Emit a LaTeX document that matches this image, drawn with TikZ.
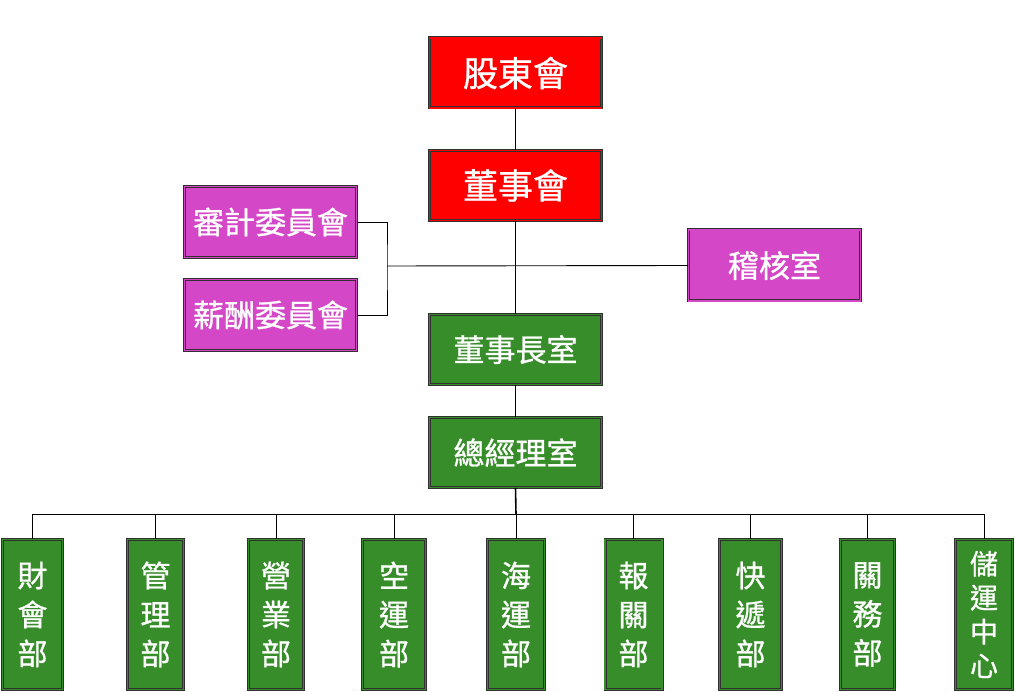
\documentclass[tikz,border=0pt]{standalone}
\usepackage{fontspec}
\newfontfamily\cjk[FakeBold=0.9]{Noto Sans CJK TC}
\definecolor{boxred}{HTML}{FF0000}
\definecolor{boxmag}{HTML}{D447C6}
\definecolor{boxgreen}{HTML}{368D29}
\definecolor{edgedark}{HTML}{303030}
\tikzset{
  box/.style={draw=edgedark, line width=0.8pt, double distance=1.4pt, inner sep=0pt, text=white, font=\cjk, align=center},
  redbox/.style={box, fill=boxred, double=boxred, minimum width=172pt, minimum height=70pt, font=\cjk\fontsize{35}{38}\selectfont},
  magbox/.style={box, fill=boxmag, double=boxmag, minimum width=172pt, minimum height=71pt, font=\cjk\fontsize{31}{34}\selectfont},
  greenbox/.style={box, fill=boxgreen, double=boxgreen, minimum width=172pt, minimum height=70pt, font=\cjk\fontsize{31}{34}\selectfont},
  deptbox/.style={box, fill=boxgreen, double=boxgreen, minimum height=150pt, font=\cjk\fontsize{30}{39}\selectfont},
  conn/.style={draw=black, line width=0.9pt},
  stem/.style={draw=black, line width=1.6pt}
}
\begin{document}
\begin{tikzpicture}[x=1pt,y=-1pt]
\useasboundingbox (0,0) rectangle (1015,692);
\node[redbox] (gd) at (515.5,73) {股東會};
\node[redbox] (dsh) at (515.5,185.5) {董事會};
\node[magbox] (sj) at (270.5,222) {審計委員會};
\node[magbox] (xc) at (270.5,315) {薪酬委員會};
\node[magbox] (jh) at (774.5,265.5) {稽核室};
\node[greenbox] (dsz) at (515.5,349.5) {董事長室};
\node[greenbox] (zjl) at (515.5,452.5) {總經理室};

\node[deptbox, minimum width=60pt] (d1) at (32.5,614.5) {財\\會\\部};
\node[deptbox, minimum width=56pt] (d2) at (155.5,614.5) {管\\理\\部};
\node[deptbox, minimum width=55pt] (d3) at (276,614.5) {營\\業\\部};
\node[deptbox, minimum width=63pt] (d4) at (394,614.5) {空\\運\\部};
\node[deptbox, minimum width=57pt] (d5) at (516,614.5) {海\\運\\部};
\node[deptbox, minimum width=57pt] (d6) at (633.5,614.5) {報\\關\\部};
\node[deptbox, minimum width=62pt] (d7) at (750.5,614.5) {快\\遞\\部};
\node[deptbox, minimum width=54pt] (d8) at (867.5,614.5) {關\\務\\部};
\node[deptbox, minimum width=57pt, font=\cjk\fontsize{28}{34}\selectfont] (d9) at (984,614.5) {儲\\運\\中\\心};

\coordinate (bj) at (387,266);
\coordinate (bus) at (516,514);

\draw[conn] (gd.south) -- (dsh.north);
\draw[conn] (dsh.south) -- (dsz.north);
\draw[conn] (sj.east) -| (bj) |- (xc.east);
\draw[conn] (bj) -- (jh.west);
\draw[conn] (dsz.south) -- (zjl.north);
\draw[stem] (zjl.south) -- (bus);
\foreach \d in {d1,d2,d3,d4,d5,d6,d7,d8,d9}{
  \draw[conn] (bus) -| (\d.north);
}
\end{tikzpicture}
\end{document}
